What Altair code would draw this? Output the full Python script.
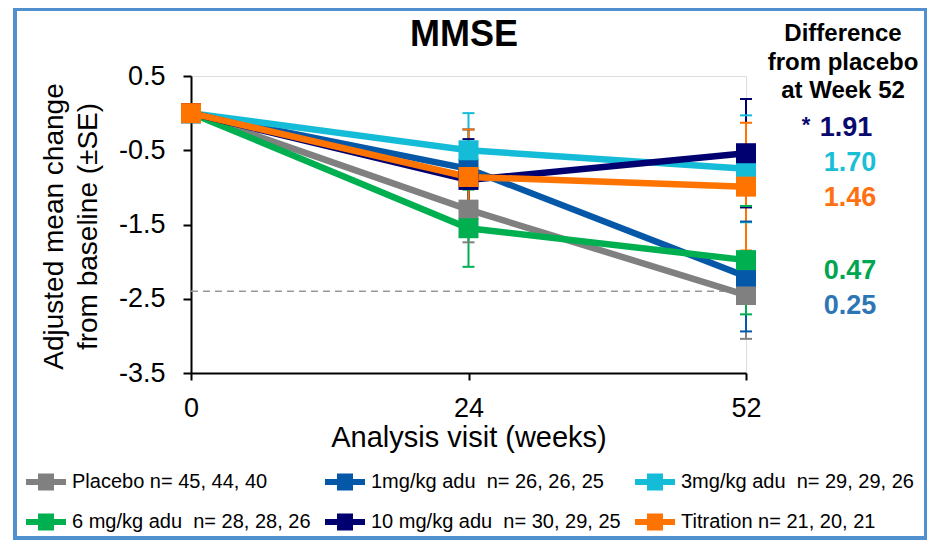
import altair as alt
import pandas as pd

# ---------------- data ----------------
weeks = ["0", "24", "52"]
groups = [
    "Placebo n= 45, 44, 40",
    "1mg/kg adu\u00a0 n= 26, 26, 25",
    "3mg/kg adu\u00a0 n= 29, 29, 26",
    "6 mg/kg adu\u00a0 n= 28, 28, 26",
    "10 mg/kg adu\u00a0 n= 30, 29, 25",
    "\u00a0Titration n= 21, 20, 21",
]
colors = ["#808080", "#0558A8", "#14BCD8", "#00B050", "#000070", "#FF7300"]

placebo_mean = [0.0, -1.30, -2.45]
mg1_mean = [0.0, -0.75, -2.20]
mg3_mean = [0.0, -0.50, -0.75]
mg6_mean = [0.0, -1.55, -1.98]
mg10_mean = [0.0, -0.90, -0.54]
titration_mean = [0.0, -0.86, -0.99]

placebo_se = [0.0, 0.44, 0.59]
mg1_se = [0.0, 0.53, 0.74]
mg3_se = [0.0, 0.50, 0.72]
mg6_se = [0.0, 0.52, 0.73]
mg10_se = [0.0, 0.55, 0.73]
titration_se = [0.0, 0.64, 0.86]

ref_level = -2.40
y_ticks = [0.5, -0.5, -1.5, -2.5, -3.5]

diff_header = ["Difference", "from placebo", "at Week 52"]
diff_labels = ["1.91", "1.70", "1.46", "0.47", "0.25"]
diff_colors = ["#0A0A6E", "#1ABFD6", "#FF7010", "#00A550", "#2E75B6"]

all_means = [placebo_mean, mg1_mean, mg3_mean, mg6_mean, mg10_mean, titration_mean]
all_ses = [placebo_se, mg1_se, mg3_se, mg6_se, mg10_se, titration_se]

rows = []
for gi, (g, ms, ss) in enumerate(zip(groups, all_means, all_ses)):
    for w, m, s in zip(weeks, ms, ss):
        rows.append({"group": g, "week": w, "mean": m, "lo": m - s, "hi": m + s,
                     "se": s, "idx": gi})
df = pd.DataFrame(rows)
err_df = df[df["se"] > 0]
ref_df = pd.DataFrame({"week": [weeks[0], weeks[-1]], "mean": [ref_level, ref_level]})

# legend is filled column by column (2 rows x 3 columns), so order the domain accordingly
legend_order = [0, 3, 1, 4, 2, 5]
leg_domain = [groups[i] for i in legend_order]
leg_range = [colors[i] for i in legend_order]

# ---------------- encodings ----------------
FONT = "Liberation Sans"
xscale = alt.Scale(type="point", padding=0, domain=weeks)
yscale = alt.Scale(domain=[-3.5, 0.5], nice=False, zero=False)

xaxis = alt.Axis(
    title="Analysis visit (weeks)", labelAngle=0, labelFontSize=27, labelColor="black",
    labelPadding=15, tickSize=7, tickColor="black", tickWidth=2, domainColor="black",
    domainWidth=2, titleFontSize=29, titleFontWeight="normal", titleColor="black",
    titleY=73, titleBaseline="alphabetic", grid=False, labelFont=FONT, titleFont=FONT,
)
yaxis = alt.Axis(
    values=y_ticks,
    labelExpr="(datum.value < 0 ? '-' : '') + format(abs(datum.value), '.1f')",
    labelFontSize=27, labelColor="black", labelPadding=18, tickSize=8, tickWidth=2,
    tickColor="black", domainColor="black", domainWidth=2,
    title=["Adjusted mean change", "from baseline (\u00b1SE)"], titleFontSize=28,
    titleFontWeight="normal", titleColor="black", titleX=-129, titleY=150,
    titleAngle=-90, titleBaseline="alphabetic", titleLineHeight=34, titleAlign="center",
    grid=False, labelFont=FONT, titleFont=FONT,
)

x_enc = alt.X("week:O", scale=xscale, axis=xaxis, sort=weeks)
color_scale = alt.Scale(domain=leg_domain, range=leg_range)

legend = alt.Legend(
    title=None, orient="none", legendX=-165, legendY=386, columns=3, columnPadding=14,
    rowPadding=10, padding=0, symbolType="M-1,-0.15H1V0.15H-1Z M-0.4,-0.42H0.4V0.42H-0.4Z",
    symbolSize=1600, symbolStrokeWidth=0, labelFontSize=20, labelFont=FONT,
    labelColor="black", labelOffset=6, labelLimit=500, symbolOpacity=1,
)
color_enc = alt.Color("group:N", scale=color_scale, legend=legend, sort=leg_domain)

# ---------------- layers ----------------
border = alt.Chart(alt.Data(values=[{}])).mark_rect(
    fillOpacity=0, stroke="#5090CF", strokeWidth=4
).encode(x=alt.value(-176), x2=alt.value(735), y=alt.value(-67), y2=alt.value(462))

ref_line = alt.Chart(ref_df).mark_line(
    color="#999999", strokeWidth=1.5, strokeDash=[7, 5]
).encode(x=x_enc, y=alt.Y("mean:Q", scale=yscale, axis=yaxis))

err_rules = alt.Chart(err_df).mark_rule(strokeWidth=2).encode(
    x=x_enc, y=alt.Y("lo:Q", scale=yscale, axis=yaxis), y2="hi:Q", color=color_enc
)
caps_lo = alt.Chart(err_df).mark_tick(size=12, thickness=2, opacity=1).encode(
    x=x_enc, y=alt.Y("lo:Q", scale=yscale, axis=yaxis), color=color_enc
)
caps_hi = alt.Chart(err_df).mark_tick(size=12, thickness=2, opacity=1).encode(
    x=x_enc, y=alt.Y("hi:Q", scale=yscale, axis=yaxis), color=color_enc
)
lines = alt.Chart(df).mark_line(strokeWidth=6.5).encode(
    x=x_enc, y=alt.Y("mean:Q", scale=yscale, axis=yaxis), color=color_enc,
    order=alt.Order("week:O"),
)
squares = alt.Chart(df).mark_square(size=400, opacity=1, filled=True).encode(
    x=x_enc, y=alt.Y("mean:Q", scale=yscale, axis=yaxis), color=color_enc,
    order=alt.Order("idx:Q"),
)


def txt(text, x, y, size, color="black", bold=True, align="center"):
    return alt.Chart(alt.Data(values=[{}])).mark_text(
        text=text, fontSize=size, fontWeight="bold" if bold else "normal",
        color=color, align=align, baseline="alphabetic", font=FONT,
    ).encode(x=alt.value(x), y=alt.value(y))


title = txt("MMSE", 273, -30, 36)
header = [txt(t, 652, y, 24, "black") for t, y in zip(diff_header, [-35, -6, 22])]
diff_pos = [(655, 60), (659, 95), (659, 130), (659, 203), (659, 238)]
diffs = [txt(t, x, y, 27, c) for t, c, (x, y) in zip(diff_labels, diff_colors, diff_pos)]
star = txt("*", 615, 56, 22, diff_colors[0])

chart = alt.layer(
    border, ref_line, err_rules, caps_lo, caps_hi, lines, squares, title, *header, *diffs, star
).properties(
    width=555, height=297,
    autosize=alt.AutoSizeParams(type="none"),
    padding={"left": 183, "top": 68, "right": 181, "bottom": 167},
).configure_view(stroke=None).configure(font=FONT, background="white")

chart.save("out.html", embed_options={"renderer": "svg", "actions": False})
